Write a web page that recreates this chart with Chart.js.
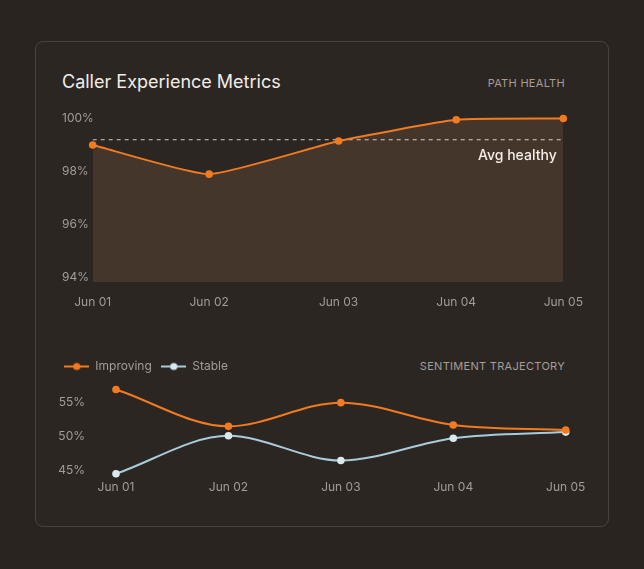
<!DOCTYPE html>
<html><head><meta charset="utf-8">
<script src="https://cdn.jsdelivr.net/npm/chart.js@4.4.0/dist/chart.umd.min.js"></script>
<style>
html,body{margin:0;padding:0;background:#2a2421;width:644px;height:569px;overflow:hidden;font-family:Inter,"Noto Sans",sans-serif;}
.card{position:absolute;left:35px;top:41px;width:572px;height:484px;border:1px solid #48423e;border-radius:8px;background:#2c2623;}
.title{position:absolute;left:62px;top:69.8px;font-size:18px;line-height:24px;color:#f1ece7;font-weight:400;white-space:nowrap;}
.tag{position:absolute;right:79px;font-size:11px;line-height:13px;color:#a59d96;letter-spacing:0.3px;white-space:nowrap;}
canvas{position:absolute;left:0;}
</style></head><body>
<div class="card"></div>
<div class="title">Caller Experience Metrics</div>
<div class="tag" style="top:77.2px">PATH HEALTH</div>
<div class="tag" style="top:359.5px">SENTIMENT TRAJECTORY</div>
<canvas id="health" width="644" height="215" style="top:100px;width:644px;height:215px"></canvas>
<canvas id="sentiment" width="644" height="150" style="top:351px;width:644px;height:150px"></canvas>
<script>
// ---- data ----
const days = ['Jun 01', 'Jun 02', 'Jun 03', 'Jun 04', 'Jun 05'];
const healthSampleDay = [0, 0.99, 2.09, 3.09, 4];        // sample time, days since Jun 01
const pathHealth = [99.0, 97.9, 99.15, 99.95, 100.0];     // %
const healthTicks = [94, 96, 98, 100];
const improving = [56.9, 51.45, 54.95, 51.65, 50.9];      // %
const stable = [44.45, 50.05, 46.4, 49.7, 50.6];          // %
const sentimentTicks = [45, 50, 55];

// ---- style ----
const FONT = 'Inter, "Noto Sans", sans-serif';
const ORANGE = '#f27b1f';
const BLUE = '#a9ccdb';
const BLUE_PT = '#d9e9ef';
const TICK = '#a39c95';
Chart.defaults.font.family = FONT;

const avgHealth = pathHealth.reduce((a, b) => a + b, 0) / pathHealth.length;

const avgLabelPlugin = {
  id: 'avgLabel',
  afterDatasetsDraw(chart) {
    const {ctx, chartArea, scales} = chart;
    const py = scales.y.getPixelForValue(avgHealth);
    ctx.save();
    ctx.font = '500 14px ' + FONT;
    ctx.fillStyle = '#f3eee9';
    ctx.textAlign = 'right';
    ctx.textBaseline = 'middle';
    ctx.fillText('Avg healthy', chartArea.right - 6.6, py + 16.4);
    ctx.restore();
  }
};

new Chart(document.getElementById('health'), {
  type: 'line',
  data: {
    datasets: [
      {
        label: 'Path health',
        data: pathHealth.map((v, i) => ({x: healthSampleDay[i], y: v})),
        borderColor: ORANGE, backgroundColor: '#45362c', fill: 'start',
        borderWidth: 2, tension: 0.15, clip: false,
        pointRadius: 3.8, pointBackgroundColor: ORANGE, pointBorderWidth: 0,
        order: 1
      },
      {
        label: 'Avg healthy',
        data: [{x: healthSampleDay[0], y: avgHealth}, {x: healthSampleDay[healthSampleDay.length - 1], y: avgHealth}],
        borderColor: 'rgba(215,210,205,0.8)', borderWidth: 1.2, borderDash: [4, 4],
        pointRadius: 0, fill: false, order: 2
      }
    ]
  },
  options: {
    responsive: false, animation: false,
    layout: {padding: {left: 62, right: 80.7, top: 10.55, bottom: 0}},
    plugins: {legend: {display: false}, tooltip: {enabled: false}, filler: {drawTime: 'beforeDatasetsDraw'}},
    scales: {
      x: {
        type: 'linear', min: 0, max: 4,
        grid: {display: false, drawTicks: false}, border: {display: false},
        afterBuildTicks: s => { s.ticks = healthSampleDay.map(v => ({value: v})); },
        afterFit: s => { s.height = 33; },
        ticks: {autoSkip: false, maxRotation: 0, padding: 13, color: TICK, font: {size: 12}, callback: (v, i) => days[i]}
      },
      y: {
        min: 93.83, max: 100.3,
        grid: {display: false, drawTicks: false}, border: {display: false},
        afterBuildTicks: s => { s.ticks = healthTicks.map(v => ({value: v})); },
        afterFit: s => { s.width = 30.7; s.paddingTop = 0; s.paddingBottom = 0; },
        ticks: {crossAlign: 'far', padding: 0, color: TICK, font: {size: 12}, callback: v => v + '%'}
      }
    }
  },
  plugins: [avgLabelPlugin]
});

function legendMarker(line, dot) {
  const c = document.createElement('canvas');
  c.width = 25; c.height = 10;
  const g = c.getContext('2d');
  g.strokeStyle = line; g.lineWidth = 2;
  g.beginPath(); g.moveTo(0, 5); g.lineTo(25, 5); g.stroke();
  g.fillStyle = dot;
  g.beginPath(); g.arc(12.5, 5, 3.6, 0, Math.PI * 2); g.fill();
  return c;
}

new Chart(document.getElementById('sentiment'), {
  type: 'line',
  data: {
    labels: days,
    datasets: [
      {
        label: 'Improving', data: improving,
        borderColor: ORANGE, backgroundColor: ORANGE, borderWidth: 2,
        cubicInterpolationMode: 'monotone', clip: false,
        pointRadius: 3.8, pointBackgroundColor: ORANGE, pointBorderWidth: 0
      },
      {
        label: 'Stable', data: stable,
        borderColor: BLUE, backgroundColor: BLUE_PT, borderWidth: 2,
        cubicInterpolationMode: 'monotone', clip: false,
        pointRadius: 3.8, pointBackgroundColor: BLUE_PT, pointBorderWidth: 0
      }
    ]
  },
  options: {
    responsive: false, animation: false,
    layout: {padding: {left: 54.8, right: 78.3, top: 0, bottom: 0}},
    plugins: {
      tooltip: {enabled: false},
      legend: {
        display: true, position: 'top', align: 'start', maxHeight: 28,
        labels: {
          usePointStyle: true, pointStyleWidth: 25, boxHeight: 10, padding: 9.5,
          color: TICK, font: {size: 12},
          generateLabels(chart) {
            const items = Chart.defaults.plugins.legend.labels.generateLabels(chart);
            items.forEach(it => {
              const ds = chart.data.datasets[it.datasetIndex];
              it.pointStyle = legendMarker(ds.borderColor, ds.pointBackgroundColor);
            });
            return items;
          }
        }
      }
    },
    scales: {
      x: {
        grid: {display: false, drawTicks: false}, border: {display: false},
        afterFit: s => { s.height = 25; },
        ticks: {autoSkip: false, maxRotation: 0, padding: 4, color: TICK, font: {size: 12}}
      },
      y: {
        min: 44.114, max: 58.44,
        grid: {display: false, drawTicks: false}, border: {display: false},
        afterBuildTicks: s => { s.ticks = sentimentTicks.map(v => ({value: v})); },
        afterFit: s => { s.width = 116 - 54.8; s.paddingTop = 0; s.paddingBottom = 0; },
        ticks: {padding: 31, color: TICK, font: {size: 12}, callback: v => v + '%'}
      }
    }
  }
});
</script>
</body></html>
